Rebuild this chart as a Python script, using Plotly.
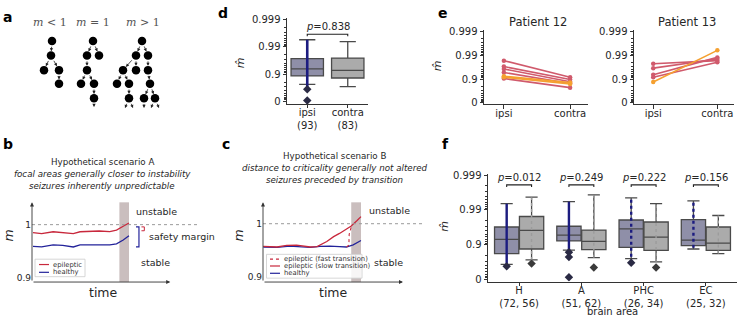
import numpy as np
import plotly.graph_objects as go

W, H = 740, 322
def fx(px): return px / W
def fy(py): return 1 - py / H
def tr(m): return -np.log10(1 - np.asarray(m, dtype=float))

# ---------------- data ----------------
# panel a : branching trees (node positions, edges)
tree_labels = ["<i>m</i> < 1", "<i>m</i> = 1", "<i>m</i> > 1"]
tree_label_x = [50, 93, 143]
tree1_nodes = [(52, 37), (51, 52), (44, 67), (59, 67), (59, 81)]
tree1_edges = [(0, 1), (1, 2), (1, 3), (3, 4)]
tree1_leaves = []
tree2_nodes = [(93, 37), (87, 52), (99, 52), (87, 67), (81, 81), (94, 81), (94, 96)]
tree2_edges = [(0, 1), (0, 2), (1, 3), (3, 4), (3, 5), (5, 6)]
tree2_leaves = [(6, (94, 105))]
tree3_nodes = [(142, 37), (136, 52), (148, 52), (123, 67), (136, 67), (148, 67),
               (117, 81), (129, 81), (150, 81), (129, 96), (144, 96), (155, 96)]
tree3_edges = [(0, 1), (0, 2), (1, 3), (1, 4), (2, 5), (3, 6), (3, 7), (5, 8), (7, 9), (8, 10), (8, 11)]
tree3_leaves = [(9, (125, 106)), (9, (133, 106)), (10, (144, 106)), (11, (151, 106)), (11, (159, 106))]

# panel b : scenario A
b_time = [0, 9, 21, 31, 42, 49, 59, 69, 80, 87, 94, 100]
b_epileptic = [0.985, 0.983, 0.9866, 0.985, 0.983, 0.9866, 0.987, 0.988, 0.987, 0.9896, 0.997, 1.003]
b_healthy = [0.959, 0.958, 0.962, 0.961, 0.958, 0.962, 0.962, 0.962, 0.962, 0.964, 0.971, 0.979]
seizure_window = [90, 100]

# panel c : scenario B
c_time_slow = [0, 14, 24, 34, 48, 55, 65, 72, 78, 85, 90, 96, 100]
c_epileptic_slow = [0.9576, 0.9564, 0.9594, 0.960, 0.9564, 0.957, 0.9667, 0.9758, 0.9818, 0.9897, 0.9958, 1.006, 1.0133]
c_time_fast = [85.2, 87.6, 87.9, 90.3]
c_epileptic_fast = [0.9564, 0.960, 0.980, 0.9958]
c_time_healthy = [0, 14, 27, 37, 48, 58, 68, 78, 85, 92, 100]
c_healthy = [0.9564, 0.9558, 0.9582, 0.957, 0.9558, 0.9576, 0.9582, 0.957, 0.9564, 0.9606, 0.9685]

# panel d
d_groups = ["ipsi", "contra"]
d_counts = [93, 83]
d_q1 = [0.882, 0.860]
d_med = [0.935, 0.926]
d_q3 = [0.973, 0.974]
d_lo = [0.760, 0.710]
d_hi = [0.9945, 0.9935]
d_ipsi_strip = [0.637, 0.9945]
d_ipsi_outliers = [0.637, 0.056]
d_p = "0.838"

# panel e
e_groups = ["ipsi", "contra"]
e12_ipsi = [0.983, 0.970, 0.962, 0.947, 0.905, 0.924, 0.916]
e12_contra = [0.916, 0.895, 0.870, 0.847, 0.771, 0.860, 0.840]
e12_kind = ["r", "r", "r", "r", "r", "o", "o"]
e13_ipsi = [0.977, 0.965, 0.934, 0.916, 0.866]
e13_contra = [0.983, 0.9855, 0.9876, 0.980, 0.9937]
e13_kind = ["r", "r", "r", "r", "o"]

# panel f
f_areas = ["H", "A", "PHC", "EC"]
f_n_ipsi = [72, 51, 26, 25]
f_n_contra = [56, 62, 34, 32]
f_ipsi_q1 = [0.820, 0.922, 0.881, 0.893]
f_ipsi_med = [0.930, 0.947, 0.965, 0.926]
f_ipsi_q3 = [0.969, 0.9705, 0.9805, 0.981]
f_ipsi_lo = [0.634, 0.856, 0.747, 0.867]
f_ipsi_hi = [0.9934, 0.9942, 0.9955, 0.9945]
f_contra_q1 = [0.867, 0.861, 0.855, 0.855]
f_contra_med = [0.961, 0.920, 0.939, 0.910]
f_contra_q3 = [0.9845, 0.962, 0.9777, 0.969]
f_contra_lo = [0.725, 0.763, 0.687, 0.820]
f_contra_hi = [0.9957, 0.9963, 0.9934, 0.9855]
f_ipsi_out = [[0.58], [0.835, 0.773, 0.14], [0.67], []]
f_contra_out = [[0.65], [0.548], [0.548], []]
f_ipsi_strip_lo = [0.58, 0.773, 0.67, 0.877]
f_p = ["0.012", "0.249", "0.222", "0.156"]

# ---------------- styles ----------------
FONT = "DejaVu Sans"
TXT = "#262626"
AX = "#333333"
RED = "#c8283c"
BLUE = "#23239a"
NAVY = "#1c1c80"
IPSI_FILL = "#8f8fa8"
CONTRA_FILL = "#ababab"
BOXLINE = "#4a4a4a"
E_RED = "#d05a6c"
E_ORANGE = "#f5a030"
SHADE = "rgb(202,190,190)"

fig = go.Figure()
ann = []
shapes = []

# ---------------- panel a ----------------
for nodes, edges, leaves in [(tree1_nodes, tree1_edges, tree1_leaves),
                             (tree2_nodes, tree2_edges, tree2_leaves),
                             (tree3_nodes, tree3_edges, tree3_leaves)]:
    fig.add_trace(go.Scatter(x=[n[0] for n in nodes], y=[n[1] for n in nodes], mode="markers",
                             marker=dict(size=8.5, color="black"), xaxis="x", yaxis="y",
                             showlegend=False, hoverinfo="skip"))
    for p, c in edges:
        ann.append(dict(x=nodes[c][0], y=nodes[c][1], ax=nodes[p][0], ay=nodes[p][1],
                        xref="x", yref="y", axref="x", ayref="y", text="", showarrow=True,
                        arrowhead=2, arrowsize=0.8, arrowwidth=0.8, arrowcolor="#222",
                        standoff=4.3, startstandoff=4.3))
    for p, end in leaves:
        ann.append(dict(x=end[0], y=end[1], ax=nodes[p][0], ay=nodes[p][1],
                        xref="x", yref="y", axref="x", ayref="y", text="", showarrow=True,
                        arrowhead=2, arrowsize=0.8, arrowwidth=0.8, arrowcolor="#222",
                        standoff=0, startstandoff=4.3))
for lab, lx in zip(tree_labels, tree_label_x):
    ann.append(dict(x=lx, y=18, xref="x", yref="y", text=lab, showarrow=False,
                    font=dict(family="DejaVu Serif", size=11, color="#555")))

# ---------------- panel b ----------------
fig.add_trace(go.Scatter(x=b_time, y=b_epileptic, mode="lines", line=dict(color=RED, width=1.3),
                         xaxis="x2", yaxis="y2", showlegend=False, hoverinfo="skip"))
fig.add_trace(go.Scatter(x=b_time, y=b_healthy, mode="lines", line=dict(color=BLUE, width=1.3),
                         xaxis="x2", yaxis="y2", showlegend=False, hoverinfo="skip"))
# safety-margin brackets
b_red_level = 0.9885
b_blue_level = min(b_healthy[:3])
shapes.append(dict(type="path", xref="x2", yref="y2",
                   path=f"M 107.3,0.9958 L 110.4,0.9958 L 110.4,{b_blue_level:.4f} L 107.3,{b_blue_level:.4f}",
                   line=dict(color=BLUE, width=1.2)))
shapes.append(dict(type="path", xref="x2", yref="y2",
                   path=f"M 113,0.9958 L 116,0.9958 L 116,{b_red_level} L 113,{b_red_level}",
                   line=dict(color=RED, width=1.0)))

# ---------------- panel c ----------------
fig.add_trace(go.Scatter(x=c_time_healthy, y=c_healthy, mode="lines", line=dict(color=BLUE, width=1.3),
                         xaxis="x3", yaxis="y3", showlegend=False, hoverinfo="skip"))
fig.add_trace(go.Scatter(x=c_time_slow, y=c_epileptic_slow, mode="lines", line=dict(color=RED, width=1.3),
                         xaxis="x3", yaxis="y3", showlegend=False, hoverinfo="skip"))
fig.add_trace(go.Scatter(x=c_time_fast, y=c_epileptic_fast, mode="lines",
                         line=dict(color=RED, width=1.1, dash="dot"),
                         xaxis="x3", yaxis="y3", showlegend=False, hoverinfo="skip"))

for xa, ya, x0p, x1p in [("x2", "y2", 32, 200), ("x3", "y3", 263, 425)]:
    shapes.append(dict(type="rect", xref=xa, yref=ya + " domain", x0=seizure_window[0], x1=seizure_window[1],
                       y0=0, y1=1, fillcolor=SHADE, line=dict(width=0), layer="below"))
    shapes.append(dict(type="line", xref="paper", yref=ya, x0=fx(x0p), x1=fx(x1p), y0=1, y1=1,
                       line=dict(color="#9a9a9a", width=1, dash="dot")))

# axis arrows for b, c
for xa, ya, xmin, xend, ybot, ytop in [("x2", "y2", -1.04, 143, 0.892, 1.042),
                                        ("x3", "y3", -0.3, 143, 0.8909, 1.04)]:
    ann.append(dict(x=xend, y=ybot, ax=xmin, ay=ybot, xref=xa, yref=ya, axref=xa, ayref=ya, text="",
                    showarrow=True, arrowhead=2, arrowsize=0.9, arrowwidth=0.9, arrowcolor=AX))
    ann.append(dict(x=xmin, y=ytop, ax=xmin, ay=ybot, xref=xa, yref=ya, axref=xa, ayref=ya, text="",
                    showarrow=True, arrowhead=2, arrowsize=0.9, arrowwidth=0.9, arrowcolor=AX))

def ptext(x, y, text, size=9, anchor="center", italic=False, color=TXT, bold=False, angle=0, family=FONT):
    if italic:
        text = "<i>" + text + "</i>"
    if bold:
        text = "<b>" + text + "</b>"
    ann.append(dict(x=fx(x), y=fy(y), xref="paper", yref="paper", text=text, showarrow=False,
                    xanchor=anchor, yanchor="middle", textangle=angle,
                    font=dict(family=family, size=size, color=color)))

# titles b, c
ptext(102, 161.5, "Hypothetical scenario A", 8.7)
ptext(102, 174, "focal areas generally closer to instability", 8.7, italic=True)
ptext(102, 186.5, "seizures inherently unpredictable", 8.7, italic=True)
ptext(334.5, 155, "Hypothetical scenario B", 8.7)
ptext(334.5, 167.5, "distance to criticality generally not altered", 8.7, italic=True)
ptext(334.5, 180, "seizures preceded by transition", 8.7, italic=True)

ptext(134, 212, "unstable", 9.5, anchor="left")
ptext(147, 238, "safety margin", 9.5, anchor="left")
ptext(139, 265, "stable", 9.5, anchor="left")
ptext(367, 211, "unstable", 9.5, anchor="left")
ptext(372, 265, "stable", 9.5, anchor="left")
ptext(103, 296, "time", 12.5)
ptext(333, 296, "time", 12.5)
ptext(8, 237, "m", 12.5, italic=True, angle=-90)
ptext(238, 237, "m", 12.5, italic=True, angle=-90)

# manual legends
def legend_box(x0, y0, x1, y1):
    shapes.append(dict(type="rect", xref="paper", yref="paper", x0=fx(x0), x1=fx(x1), y0=fy(y1), y1=fy(y0),
                       line=dict(color="#cccccc", width=0.8), fillcolor="rgba(255,255,255,0.85)"))
def legend_item(x0, x1, y, color, label, dash="solid"):
    shapes.append(dict(type="line", xref="paper", yref="paper", x0=fx(x0), x1=fx(x1), y0=fy(y), y1=fy(y),
                       line=dict(color=color, width=1.2, dash=dash)))
    ptext(x1 + 2, y, label, 6.8, anchor="left", color="#333")

legend_box(35, 261.5, 85, 279.5)
legend_item(39, 49, 267, RED, "epileptic")
legend_item(39, 49, 275, BLUE, "healthy")
legend_box(266.5, 256.5, 362, 281)
legend_item(270, 280, 261.5, RED, "epileptic (fast transition)", dash="dot")
legend_item(270, 280, 268.5, RED, "epileptic (slow transition)")
legend_item(270, 280, 276, BLUE, "healthy")

# ---------------- panel d ----------------
for i, (fill, q1, md, q3, lo, hi) in enumerate(zip([IPSI_FILL, CONTRA_FILL], d_q1, d_med, d_q3, d_lo, d_hi)):
    fig.add_trace(go.Box(x=[i], q1=[tr(q1)], median=[tr(md)], q3=[tr(q3)], lowerfence=[tr(lo)],
                         upperfence=[tr(hi)], width=0.8, whiskerwidth=0.5, fillcolor=fill,
                         line=dict(color=BOXLINE, width=1.3), boxpoints=False,
                         xaxis="x4", yaxis="y4", showlegend=False, hoverinfo="skip"))
fig.add_trace(go.Scatter(x=[0, 0], y=tr(d_ipsi_strip), mode="lines", line=dict(color=NAVY, width=2.6),
                         xaxis="x4", yaxis="y4", showlegend=False, hoverinfo="skip"))
fig.add_trace(go.Scatter(x=[0] * len(d_ipsi_outliers), y=tr(d_ipsi_outliers), mode="markers",
                         marker=dict(symbol="diamond", size=6.5, color="#2a2a44"),
                         xaxis="x4", yaxis="y4", showlegend=False, hoverinfo="skip"))
d_bracket = 2.46
shapes.append(dict(type="path", xref="x4", yref="y4",
                   path=f"M 0,{d_bracket-0.07} L 0,{d_bracket} L 1,{d_bracket} L 1,{d_bracket-0.07}",
                   line=dict(color="#222", width=1.1)))
ann.append(dict(x=0.5, y=d_bracket, xref="x4", yref="y4", text=f"<i>p</i>={d_p}", showarrow=False,
                yanchor="bottom", yshift=0, font=dict(family=FONT, size=10, color=TXT)))
ptext(240, 60, "m\u0302", 11, italic=True, angle=-90)

# ---------------- panel e ----------------
for xa, ya, ipsi, contra, kind in [("x5", "y5", e12_ipsi, e12_contra, e12_kind),
                                    ("x6", "y6", e13_ipsi, e13_contra, e13_kind)]:
    order = [k for k in range(len(kind)) if kind[k] == "r"] + [k for k in range(len(kind)) if kind[k] == "o"]
    for k in order:
        col = E_RED if kind[k] == "r" else E_ORANGE
        fig.add_trace(go.Scatter(x=[0, 1], y=tr([ipsi[k], contra[k]]), mode="lines+markers",
                                 line=dict(color=col, width=1.6), marker=dict(size=4.5, color=col),
                                 xaxis=xa, yaxis=ya, showlegend=False, hoverinfo="skip"))
ptext(538, 17, "Patient 12", 11.5)
ptext(687, 17, "Patient 13", 11.5)
ptext(437, 63, "m\u0302", 11, italic=True, angle=-90)

# ---------------- panel f ----------------
for i in range(len(f_areas)):
    for off, fill, q1, md, q3, lo, hi in [(-0.2, IPSI_FILL, f_ipsi_q1[i], f_ipsi_med[i], f_ipsi_q3[i], f_ipsi_lo[i], f_ipsi_hi[i]),
                                          (0.2, CONTRA_FILL, f_contra_q1[i], f_contra_med[i], f_contra_q3[i], f_contra_lo[i], f_contra_hi[i])]:
        fig.add_trace(go.Box(x=[i + off], q1=[tr(q1)], median=[tr(md)], q3=[tr(q3)], lowerfence=[tr(lo)],
                             upperfence=[tr(hi)], width=0.39, whiskerwidth=0.5, fillcolor=fill,
                             line=dict(color=BOXLINE, width=1.3), boxpoints=False,
                             xaxis="x7", yaxis="y7", showlegend=False, hoverinfo="skip"))
    # contra strip (faint)
    fig.add_trace(go.Scatter(x=[i + 0.2, i + 0.2], y=tr([f_contra_lo[i], f_contra_hi[i]]), mode="lines",
                             line=dict(color="#9c9c9c", width=1.4, dash="dot"),
                             xaxis="x7", yaxis="y7", showlegend=False, hoverinfo="skip"))
    # ipsi strip
    fig.add_trace(go.Scatter(x=[i - 0.2, i - 0.2], y=tr([f_ipsi_strip_lo[i], f_ipsi_hi[i]]), mode="lines",
                             line=dict(color=NAVY, width=2.4, dash="dot" if i >= 2 else "solid"),
                             xaxis="x7", yaxis="y7", showlegend=False, hoverinfo="skip"))
    if f_ipsi_out[i]:
        fig.add_trace(go.Scatter(x=[i - 0.2] * len(f_ipsi_out[i]), y=tr(f_ipsi_out[i]), mode="markers",
                                 marker=dict(symbol="diamond", size=6.5, color="#2a2a44"),
                                 xaxis="x7", yaxis="y7", showlegend=False, hoverinfo="skip"))
    if f_contra_out[i]:
        fig.add_trace(go.Scatter(x=[i + 0.2] * len(f_contra_out[i]), y=tr(f_contra_out[i]), mode="markers",
                                 marker=dict(symbol="diamond", size=6.5, color="#3a3a3a"),
                                 xaxis="x7", yaxis="y7", showlegend=False, hoverinfo="skip"))
    fb = 2.72
    shapes.append(dict(type="path", xref="x7", yref="y7",
                       path=f"M {i-0.2},{fb-0.06} L {i-0.2},{fb} L {i+0.2},{fb} L {i+0.2},{fb-0.06}",
                       line=dict(color="#222", width=1.1)))
    ann.append(dict(x=i, y=fb, xref="x7", yref="y7", text=f"<i>p</i>={f_p[i]}", showarrow=False,
                    yanchor="bottom", yshift=0, font=dict(family=FONT, size=10, color=TXT)))
ptext(445, 228, "m\u0302", 11, italic=True, angle=-90)
ptext(612, 315.5, "brain area", 10)

# panel letters
for lab, x, y in [("a", 7, 12), ("b", 8, 143), ("c", 226, 143), ("d", 223, 8), ("e", 443, 8), ("f", 445, 143)]:
    ptext(x, y, lab, 14, bold=True, color="black")

# ---------------- axes ----------------
ticks_m = [0, 0.9, 0.99, 0.999]
minor_m = [k / 10 for k in range(1, 9)] + [0.9 + k / 100 for k in range(1, 9)] + [0.99 + k / 1000 for k in range(1, 9)]

def log_yaxis(anchor, py_top, py_bot, rng):
    return dict(anchor=anchor, domain=[fy(py_bot), fy(py_top)], range=rng,
                tickmode="array", tickvals=list(tr(ticks_m)), ticktext=["0", "0.9", "0.99", "0.999"],
                ticks="outside", ticklen=3.5, tickwidth=0.9, tickcolor=AX,
                showline=True, linecolor=AX, linewidth=0.9, showgrid=False, zeroline=False,
                tickfont=dict(family=FONT, size=10, color=TXT),
                minor=dict(tickmode="array", tickvals=list(tr(minor_m)), ticks="outside", ticklen=2,
                           tickwidth=0.6, tickcolor=AX, showgrid=False))

def cat_xaxis(anchor, px0, px1, rng, vals, text):
    return dict(anchor=anchor, domain=[fx(px0), fx(px1)], range=rng, tickmode="array", tickvals=vals,
                ticktext=text, ticks="outside", ticklen=3.5, tickwidth=0.9, tickcolor=AX,
                showline=True, linecolor=AX, linewidth=0.9, showgrid=False, zeroline=False,
                ticklabelstandoff=-4,
                tickfont=dict(family=FONT, size=10, color=TXT))

hidden = dict(showline=False, showgrid=False, zeroline=False, showticklabels=False, ticks="")

layout = dict(
    width=W, height=H, margin=dict(l=0, r=0, t=0, b=0), paper_bgcolor="white", plot_bgcolor="rgba(0,0,0,0)",
    showlegend=False, font=dict(family=FONT),
    xaxis=dict(anchor="y", domain=[0, fx(190)], range=[0, 190], **hidden),
    yaxis=dict(anchor="x", domain=[fy(115), 1], range=[115, 0], **hidden),
    xaxis2=dict(anchor="y2", domain=[fx(32), fx(200)], range=[-1.04, 174], **hidden),
    yaxis2=dict(anchor="x2", domain=[fy(285), fy(203)], range=[0.892, 1.042], tickmode="array",
                tickvals=[0.9, 1], ticktext=["0.9", "1"], ticks="", showline=False, showgrid=False,
                zeroline=False, tickfont=dict(family=FONT, size=9, color=TXT)),
    xaxis3=dict(anchor="y3", domain=[fx(263), fx(425)], range=[-0.3, 165.5], **hidden),
    yaxis3=dict(anchor="x3", domain=[fy(285), fy(203)], range=[0.8909, 1.04], tickmode="array",
                tickvals=[0.9, 1], ticktext=["0.9", "1"], ticks="", showline=False, showgrid=False,
                zeroline=False, tickfont=dict(family=FONT, size=9, color=TXT)),
    xaxis4=cat_xaxis("y4", 287, 368, [-0.5, 1.5], [0, 1],
                     [f"{g}<br>({n})" for g, n in zip(d_groups, d_counts)]),
    yaxis4=log_yaxis("x4", 13.6, 101.8, [-0.1, 3.05]),
    xaxis5=cat_xaxis("y5", 484, 588, [-0.3, 1.27], [0, 1], e_groups),
    yaxis5=log_yaxis("x5", 25.8, 102.2, [-0.06, 3.05]),
    xaxis6=cat_xaxis("y6", 634, 734, [-0.3, 1.26], [0, 1], e_groups),
    yaxis6=log_yaxis("x6", 25.8, 102.2, [-0.06, 3.05]),
    xaxis7=cat_xaxis("y7", 488, 737, [-0.5, 3.5], list(range(len(f_areas))),
                     [f"{a}<br>({n1}, {n2})" for a, n1, n2 in zip(f_areas, f_n_ipsi, f_n_contra)]),
    yaxis7=log_yaxis("x7", 174.3, 284.5, [-0.06, 3.02]),
    annotations=ann, shapes=shapes,
)
fig.update_layout(**layout)
fig.write_html("out.html", config={"displayModeBar": False},
               post_script="document.body.style.margin='0';document.body.style.overflow='hidden';")
